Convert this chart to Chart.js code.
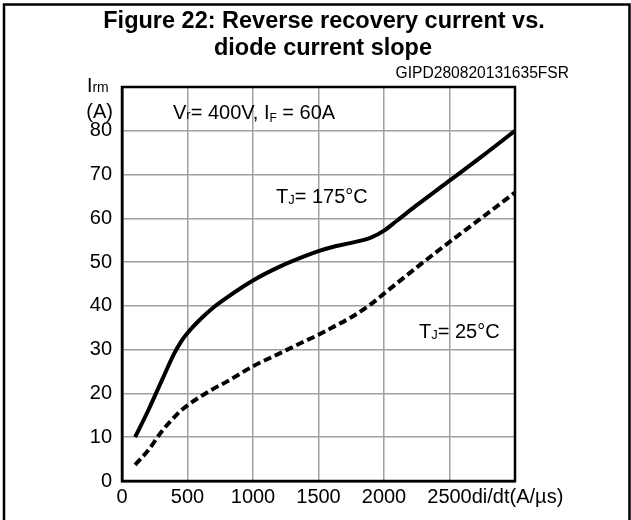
<!DOCTYPE html>
<html><head><meta charset="utf-8">
<script src="https://cdn.jsdelivr.net/npm/chart.js@4/dist/chart.umd.min.js"></script>
<style>html,body{margin:0;padding:0;background:#fff;}canvas{display:block;}</style>
</head><body>
<canvas id="c" width="631" height="520"></canvas>
<script>
// ---- data ----
const titleLines = ['Figure 22: Reverse recovery current vs.', 'diode current slope'];
const figureCode = 'GIPD280820131635FSR';
const xTickLabels = [0, 500, 1000, 1500, 2000, 2500];
const yTickLabels = [0, 10, 20, 30, 40, 50, 60, 70, 80];
const xAxisUnit = 'di/dt(A/µs)';
const diDt   = [100, 200, 300, 400, 450, 500, 600, 700, 800, 1000, 1200, 1400, 1500, 1600, 1750, 1900, 2000, 2100, 2250, 2500, 2750, 3000];
const irm175 = [10, 16.1, 22.7, 29.2, 31.8, 33.8, 37.0, 39.7, 41.9, 45.8, 48.9, 51.4, 52.5, 53.4, 54.4, 55.6, 57.2, 59.5, 63, 68.6, 74.2, 80];
const irm25  = [3.7, 7, 11.2, 14.6, 16.1, 17.3, 19.3, 21.1, 22.7, 26.2, 29.1, 32.0, 33.4, 35.0, 37.4, 40.4, 42.8, 45.2, 48.8, 54.6, 60.2, 65.9];

const FONT = "'Liberation Sans', Arial, Helvetica, sans-serif";
const pts = (xs, ys) => xs.map((x, i) => ({x: x, y: ys[i]}));

function drawRuns(ctx, x, y, runs) {
  ctx.textAlign = 'left';
  ctx.textBaseline = 'alphabetic';
  for (const r of runs) {
    ctx.font = (r.bold ? 'bold ' : '') + r.s + 'px ' + FONT;
    ctx.fillText(r.t, x, y + (r.dy || 0));
    x += ctx.measureText(r.t).width;
  }
}

const decor = {
  id: 'decor',
  afterDatasetsDraw(chart) {
    const {ctx, chartArea: a} = chart;
    ctx.save();
    ctx.strokeStyle = '#000';
    ctx.lineWidth = 2.5;
    ctx.strokeRect(a.left, a.top, a.right - a.left, a.bottom - a.top);
    ctx.restore();
  },
  afterDraw(chart) {
    const {ctx, scales} = chart;
    ctx.save();
    // outer frame
    ctx.strokeStyle = '#000';
    ctx.lineWidth = 2.5;
    ctx.beginPath();
    ctx.moveTo(4, 520); ctx.lineTo(4, 4.5); ctx.lineTo(629.5, 4.5); ctx.lineTo(629.5, 520);
    ctx.stroke();
    ctx.fillStyle = '#000';
    // title
    ctx.font = 'bold 23.5px ' + FONT;
    ctx.textAlign = 'center';
    ctx.textBaseline = 'alphabetic';
    ctx.fillText(titleLines[0], 324, 28);
    ctx.fillText(titleLines[1], 323, 55);
    // figure code
    ctx.font = '15.6px ' + FONT;
    ctx.textAlign = 'right';
    ctx.fillText(figureCode, 569, 78);
    // y axis title
    drawRuns(ctx, 87, 92, [{t: 'I', s: 19.5}, {t: 'rm', s: 14}]);
    ctx.font = '20px ' + FONT;
    drawRuns(ctx, 113 - ctx.measureText('(A)').width, 118, [{t: '(A)', s: 20}]);
    // x axis unit after the 2500 label
    ctx.font = '20px ' + FONT;
    const xu = scales.x.getPixelForValue(2500) + ctx.measureText('2500').width / 2;
    ctx.textAlign = 'left';
    ctx.textBaseline = 'top';
    ctx.fillText(xAxisUnit, xu, scales.x.top + 6);
    // annotations
    drawRuns(ctx, 173, 119, [{t: 'V', s: 20}, {t: 'r', s: 13}, {t: '= 400V, I', s: 20}, {t: 'F', s: 12, dy: 3}, {t: ' = 60A', s: 20}]);
    drawRuns(ctx, 276, 203, [{t: 'T', s: 20}, {t: 'J', s: 13, dy: 1}, {t: '= 175°C', s: 20}]);
    drawRuns(ctx, 419, 338, [{t: 'T', s: 20}, {t: 'J', s: 13, dy: 1}, {t: '= 25°C', s: 20}]);
    ctx.restore();
  }
};

new Chart(document.getElementById('c'), {
  type: 'line',
  data: {
    datasets: [
      {label: 'TJ = 175°C', data: pts(diDt, irm175), borderColor: '#000', borderWidth: 4,
       pointRadius: 0, cubicInterpolationMode: 'monotone', fill: false},
      {label: 'TJ = 25°C', data: pts(diDt, irm25), borderColor: '#000', borderWidth: 4,
       borderDash: [8, 4], pointRadius: 0, cubicInterpolationMode: 'monotone', fill: false}
    ]
  },
  options: {
    responsive: false,
    animation: false,
    events: [],
    layout: {padding: {top: 87, right: 116, left: 0, bottom: 0}},
    plugins: {legend: {display: false}, tooltip: {enabled: false}, title: {display: false}},
    scales: {
      x: {
        type: 'linear', min: 0, max: 3000,
        afterFit: s => { s.height = 39; },
        grid: {color: '#a0a0a0', lineWidth: 1.5, drawTicks: false},
        border: {display: true, color: '#000', width: 2.5},
        ticks: {stepSize: 500, autoSkip: false, maxRotation: 0, padding: 4, color: '#000',
                font: {family: FONT, size: 20},
                callback: v => xTickLabels.includes(v) ? String(v) : ''}
      },
      y: {
        min: 0, max: 90,
        afterFit: s => { s.width = 122; },
        grid: {color: '#a0a0a0', lineWidth: 1.5, drawTicks: false},
        border: {display: true, color: '#000', width: 2.5},
        ticks: {stepSize: 10, padding: 10, color: '#000',
                font: {family: FONT, size: 20},
                callback: v => yTickLabels.includes(v) ? String(v) : ''}
      }
    }
  },
  plugins: [decor]
});
</script>
</body></html>
